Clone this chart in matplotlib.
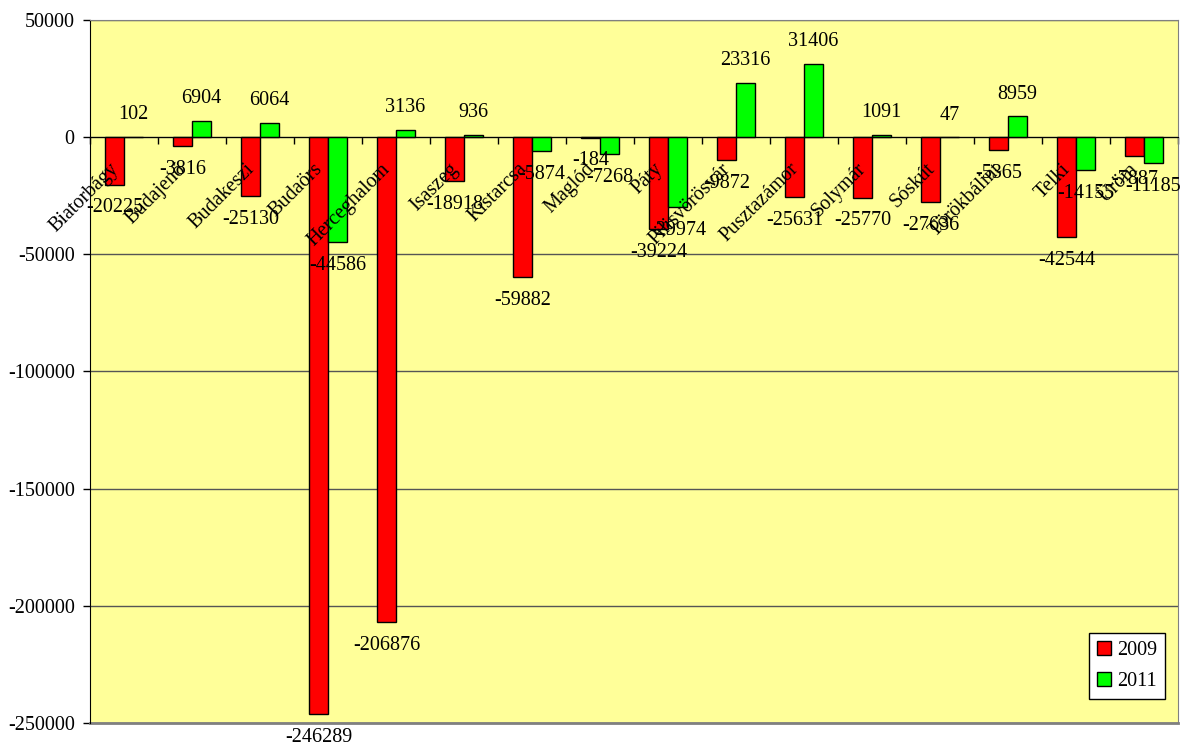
import matplotlib.pyplot as plt
import numpy as np

# kistérségi települések, 2009 és 2011
telepulesek = ['Biatorbágy', 'Budajenő', 'Budakeszi', 'Budaörs', 'Herceghalom',
               'Isaszeg', 'Kistarcsa', 'Maglód', 'Páty', 'Pilisvörösvár',
               'Pusztazámor', 'Solymár', 'Sóskút', 'Törökbálint', 'Telki', 'Üröm']
ertek_2009 = [-20225, -3816, -25130, -246289, -206876, -18918, -59882, -184,
              -39224, -9872, -25631, -25770, -27636, -5365, -42544, -7887]
ertek_2011 = [102, 6904, 6064, -44586, 3136, 936, -5874, -7268,
              -29974, 23316, 31406, 1091, 47, 8959, -14155, -11185]
y_ticks = [50000, 0, -50000, -100000, -150000, -200000, -250000]

plt.rcParams['font.family'] = ['Liberation Serif', 'DejaVu Serif']
plt.rcParams['font.size'] = 14.5

fig = plt.figure(figsize=(11.82, 7.44), dpi=100)
ax = fig.add_axes([90 / 1182, 21 / 744, 1088 / 1182, 703 / 744])
ax.set_facecolor('#FFFF99')

x = np.arange(len(telepulesek)) + 0.5
w = 0.28
b1 = ax.bar(x - w / 2, ertek_2009, w, color='#FF0000', edgecolor='black', lw=1, label='2009', zorder=3)
b2 = ax.bar(x + w / 2, ertek_2011, w, color='#00FF00', edgecolor='black', lw=1, label='2011', zorder=3)

for bars, vals in ((b1, ertek_2009), (b2, ertek_2011)):
    for b, v in zip(bars, vals):
        cx = b.get_x() + b.get_width() / 2
        if v >= 0:
            ax.annotate(str(v), (cx, v), xytext=(0, 9), textcoords='offset points',
                        ha='center', va='bottom', zorder=5)
        else:
            ax.annotate(str(v), (cx, v), xytext=(0, -10), textcoords='offset points',
                        ha='center', va='top', zorder=5)

ax.set_xlim(0, len(telepulesek))
ax.set_ylim(-250000, 50000)
ax.set_yticks(y_ticks)
ax.set_yticklabels([str(t) for t in y_ticks])
ax.yaxis.grid(True, color='#555555', lw=1, zorder=1)
ax.tick_params(axis='y', length=5, width=1, pad=6, direction='out')

# kategória tengely a nullánál
ax.spines['bottom'].set_position(('data', 0))
ax.spines['bottom'].set_color('black')
ax.spines['bottom'].set_zorder(4)
ax.set_xticks(np.arange(len(telepulesek) + 1))
ax.set_xticklabels([])
ax.tick_params(axis='x', length=5, width=1, direction='out')
for xi, name in zip(x, telepulesek):
    ax.annotate(name, (xi, 0), xytext=(-6, -21), textcoords='offset points',
                rotation=45, rotation_mode='anchor', ha='right', va='center', zorder=5)

ax.spines['left'].set_color('black')
ax.spines['top'].set_color('#808080')
ax.spines['right'].set_color('#808080')
ax.axhline(-250000, color='#808080', lw=2, zorder=2, clip_on=False)

leg = ax.legend(loc='lower right', bbox_to_anchor=(0.988, 0.034), borderaxespad=0,
                fancybox=False, framealpha=1, edgecolor='black',
                handlelength=0.7, handleheight=0.7, handletextpad=0.3, labelspacing=0.6)
leg.get_frame().set_linewidth(1)

fig.savefig('out.png', dpi=100)
